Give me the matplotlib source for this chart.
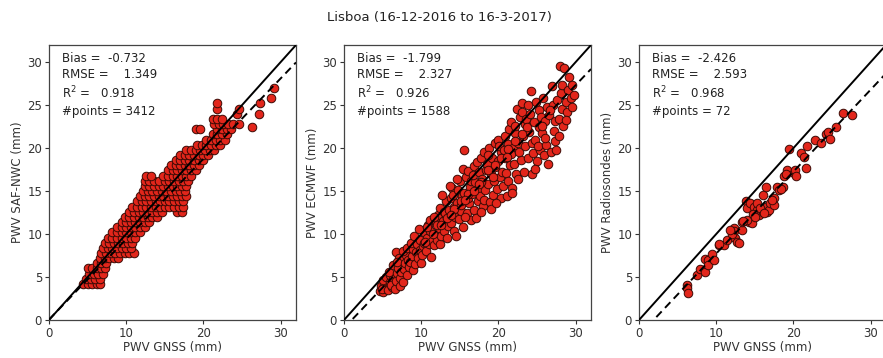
import numpy as np
import matplotlib
matplotlib.use("Agg")
import matplotlib.pyplot as plt

# ------------------ Data ------------------
title = "Lisboa (16-12-2016 to 16-3-2017)"
xlabel = "PWV GNSS (mm)"
ylabels = ["PWV SAF-NWC (mm)", "PWV ECMWF (mm)", "PWV Radiosondes (mm)"]

bias = [-0.732, -1.799, -2.426]
rmse = [1.349, 2.327, 2.593]
r2 = [0.918, 0.926, 0.968]
npoints = [3412, 1588, 72]

# regression lines (slope, intercept)
fit_slope = [0.935, 0.942, 0.953]
fit_icept = [0.05, -0.94, -1.80]

# SAF-NWC: values come in rows (quantised y), x positions per row
nwc_levels = [4.2, 4.8, 5.4, 6.0, 6.6, 7.2, 7.8, 8.4, 9.0, 9.6, 10.2, 10.8,
              11.4, 12.0, 12.6, 13.2, 13.8, 14.4, 15.0, 15.6, 16.2, 16.8,
              17.4, 18.0, 18.6, 19.2, 19.8, 20.4, 21.0, 21.6, 22.2, 22.8,
              23.4, 24.0, 24.6, 25.2, 25.8, 27.0, 22.4]
nwc_row_x = [
    [4.4, 5.0, 5.6, 6.2, 6.6],
    [4.8, 5.4, 6.0, 6.6],
    [5.2, 5.8, 6.4, 7.0],
    [5.0, 5.6, 6.2, 6.8, 7.2],
    [6.2, 6.8, 7.4],
    [6.6, 7.2, 7.8, 8.4, 9.0],
    [6.8, 7.4, 8.0, 8.6, 9.2, 9.8, 10.4, 11.0],
    [7.0, 7.6, 8.2, 8.8, 9.4, 10.0, 10.6],
    [7.2, 7.8, 8.4, 9.0, 9.6, 10.2, 10.8],
    [7.6, 8.2, 8.8, 9.4, 10.0, 10.6, 11.2],
    [8.2, 8.8, 9.4, 10.0, 10.6, 11.2, 11.8],
    [8.8, 9.4, 10.0, 10.6, 11.2, 11.8, 12.4],
    [9.4, 10.0, 10.6, 11.2, 11.8, 12.4, 13.0],
    [9.8, 10.4, 11.0, 11.6, 12.2, 12.8, 13.4, 14.0],
    [10.4, 11.0, 11.6, 12.2, 12.8, 13.4, 14.0, 14.6, 16.6, 17.2],
    [10.8, 11.4, 12.0, 12.6, 13.2, 13.8, 14.4, 15.0, 15.6, 16.2, 16.8, 17.4],
    [11.4, 12.0, 12.6, 13.2, 13.8, 14.4, 15.0, 15.6, 16.2, 16.8, 17.4],
    [11.8, 12.4, 13.0, 13.6, 14.2, 14.8, 15.4, 16.0, 16.6, 17.2, 17.8],
    [12.2, 12.8, 13.4, 14.0, 14.6, 15.2, 15.8, 16.4, 17.0, 17.6],
    [12.4, 13.0, 13.6, 14.2, 14.8, 15.4, 16.0, 16.6, 17.2, 17.8],
    [12.4, 13.0, 13.6, 14.2, 15.0, 15.6, 16.2, 16.8, 17.4, 18.0],
    [12.6, 13.2, 14.8, 15.4, 16.0, 16.6, 17.2, 17.8, 18.4],
    [15.4, 16.0, 16.6, 17.2, 17.8, 18.4, 19.0],
    [15.8, 16.4, 17.0, 17.6, 18.2, 18.8, 19.4],
    [16.4, 17.0, 17.6, 18.2, 18.8, 19.4, 20.0],
    [17.0, 17.6, 18.2, 18.8, 19.4, 20.0, 20.6],
    [17.8, 18.4, 19.0, 19.6, 20.2, 20.8, 21.4],
    [19.2, 19.8, 20.4, 21.0, 21.6, 22.2],
    [20.4, 21.0, 21.6, 22.2, 22.8],
    [21.2, 21.8, 22.4, 23.0],
    [19.0, 19.6, 21.8, 22.4, 23.0, 23.6],
    [21.4, 22.0, 22.6, 23.2, 23.8, 24.6],
    [21.2, 21.8, 22.4],
    [24.4, 27.2],
    [21.8, 24.6],
    [21.8, 27.4],
    [28.8],
    [29.2],
    [26.3],
]

# ECMWF scatter
ecmwf_x = [4.6, 4.8, 5.0, 5.2, 5.4, 5.0, 5.5, 4.9,
           5.7, 5.9, 6.0, 6.2, 6.3, 5.8, 6.4, 6.1,
           6.6, 6.8, 6.9, 7.0, 7.2, 7.3, 6.7, 7.1, 7.4, 6.9,
           7.6, 7.8, 7.9, 8.0, 8.2, 8.3, 7.7, 8.4, 8.1,
           8.6, 8.8, 8.9, 9.0, 9.2, 9.3, 8.7, 9.4, 9.1,
           9.6, 9.8, 9.9, 10.0, 10.2, 10.3, 10.4, 9.7, 10.1,
           10.6, 10.8, 10.9, 11.0, 11.2, 11.3, 11.4, 10.7, 11.1,
           11.6, 11.8, 11.9, 12.0, 12.2, 12.3, 12.4, 11.7, 12.1, 12.5,
           12.6, 12.8, 12.9, 13.0, 13.2, 13.3, 13.4, 12.7, 13.1, 13.5,
           13.6, 13.8, 13.9, 14.0, 14.2, 14.3, 14.4, 13.7, 14.1, 14.5,
           14.6, 14.8, 14.9, 15.0, 15.2, 15.3, 15.4, 14.7, 15.1, 15.5, 15.4,
           15.6, 15.8, 15.9, 16.0, 16.2, 16.3, 16.4, 15.7, 16.1, 16.5,
           16.6, 16.8, 16.9, 17.0, 17.2, 17.3, 17.4, 16.7, 17.1, 17.5,
           17.6, 17.8, 17.9, 18.0, 18.2, 18.3, 18.4, 17.7, 18.1, 18.5,
           18.6, 18.8, 18.9, 19.0, 19.2, 19.3, 19.4, 18.7, 19.1, 19.5,
           19.6, 19.8, 19.9, 20.0, 20.2, 20.3, 20.4, 19.7, 20.1, 20.5,
           20.6, 20.8, 20.9, 21.0, 21.2, 21.3, 21.4, 20.7, 21.1, 21.5,
           21.6, 21.8, 21.8, 21.9, 22.0, 22.2, 22.3, 22.4, 21.7, 22.1, 22.5,
           22.6, 22.8, 22.9, 23.0, 23.2, 23.3, 23.4, 22.7, 23.1, 23.5,
           23.6, 23.8, 23.9, 24.0, 24.2, 24.3, 24.4, 23.7, 24.1, 24.5,
           24.6, 24.8, 24.9, 25.0, 25.2, 25.3, 25.4, 24.7, 25.1, 25.5,
           25.6, 25.8, 25.9, 26.0, 26.2, 26.3, 26.4, 25.7, 26.1,
           26.6, 26.8, 27.0, 27.1, 27.2, 27.4, 26.7, 27.3, 27.5,
           27.6, 27.8, 28.0, 28.1, 28.2, 28.4, 28.5, 27.9, 28.3,
           28.7, 28.9, 29.0, 29.2, 29.4, 29.5, 29.6, 29.8, 28.8,
           10.5, 11.5, 12.6, 13.4, 14.3, 15.2, 16.1, 16.9, 17.8, 18.7,
           19.6, 20.4, 21.2, 22.1, 23.0, 13.9, 15.7, 17.5, 19.3, 21.1]
ecmwf_y = [3.4, 3.9, 3.3, 4.2, 3.6, 4.6, 5.0, 3.6,
           3.5, 4.4, 5.2, 3.8, 4.8, 5.6, 6.4, 4.1,
           3.6, 4.5, 5.5, 6.1, 3.9, 4.9, 7.9, 7.2, 5.6, 6.8,
           4.4, 5.9, 6.6, 7.6, 5.2, 7.0, 8.0, 6.2, 8.4,
           6.8, 7.5, 5.8, 8.3, 6.5, 7.9, 9.0, 8.9, 9.8,
           7.2, 8.1, 9.3, 6.6, 8.6, 10.2, 9.0, 10.6, 7.6,
           8.0, 9.6, 11.0, 8.8, 10.4, 7.3, 9.2, 10.8, 11.6,
           8.7, 10.0, 11.4, 9.3, 12.2, 10.7, 8.9, 12.0, 11.0, 13.0,
           9.8, 11.5, 12.6, 10.3, 13.8, 11.9, 9.6, 14.6, 12.4, 10.9,
           12.8, 14.2, 11.3, 15.4, 13.2, 10.4, 12.0, 15.6, 14.6, 9.8,
           13.6, 15.1, 11.8, 16.2, 12.7, 14.4, 10.8, 16.4, 13.4, 19.8, 17.6,
           14.8, 16.6, 12.4, 17.3, 13.6, 15.5, 11.6, 12.0, 14.2, 16.2,
           14.7, 17.9, 12.8, 16.0, 18.4, 13.9, 15.3, 16.9, 11.9, 17.2,
           14.4, 18.9, 16.4, 13.3, 19.6, 15.1, 17.4, 12.6, 14.0, 18.2,
           15.8, 20.0, 13.7, 17.0, 18.8, 14.6, 16.2, 19.2, 12.9, 20.6,
           17.8, 15.2, 21.0, 18.5, 16.6, 19.6, 14.2, 13.6, 20.3, 17.2,
           15.6, 21.4, 18.9, 17.1, 20.5, 16.2, 22.2, 19.8, 14.4, 18.0,
           23.0, 15.4, 14.8, 20.0, 18.2, 21.8, 17.0, 24.6, 19.3, 22.6, 16.4,
           20.6, 23.6, 18.6, 25.2, 21.4, 17.2, 22.8, 19.6, 24.2, 20.2,
           23.4, 18.8, 25.0, 21.9, 26.6, 17.0, 20.6, 22.4, 24.0, 19.4,
           23.0, 21.0, 25.4, 18.5, 22.4, 24.4, 19.8, 17.6, 20.2, 23.6,
           21.8, 25.8, 19.2, 23.2, 20.4, 24.8, 18.2, 22.6, 21.2,
           23.8, 19.6, 27.2, 25.0, 22.0, 20.8, 24.4, 23.2, 19.8,
           25.6, 23.4, 29.5, 26.4, 24.6, 22.6, 29.3, 21.4, 27.4,
           25.4, 24.2, 26.8, 28.3, 25.8, 27.3, 24.8, 26.2, 23.3,
           9.1, 10.0, 11.1, 11.9, 12.9, 13.8, 14.7, 15.0, 16.0, 17.4,
           18.0, 18.8, 19.9, 20.8, 21.6, 12.2, 14.0, 15.8, 16.6, 19.0]

# Radiosondes scatter (72 launches)
sonde_x = [6.2, 6.2, 6.3, 7.5, 7.9, 8.6, 8.6, 9.0, 9.0, 9.4, 9.7, 10.3,
           11.0, 11.4, 12.3, 12.3, 12.5, 12.7, 13.0, 13.3, 13.3, 13.9,
           14.0, 14.4, 14.9, 14.3, 14.6, 14.0, 15.3, 15.3, 15.5, 16.0,
           16.0, 16.4, 16.4, 16.6, 16.8, 17.0, 17.5, 17.5, 17.9, 18.1,
           18.6, 18.8, 19.2, 19.4, 20.1, 20.2, 21.0, 21.4, 21.7, 21.8,
           22.8, 23.6, 24.2, 24.5, 24.7, 25.5, 26.4, 27.6, 14.8, 15.7,
           16.2, 13.5, 12.0, 10.4, 11.8, 17.2, 18.4, 19.0, 20.4, 15.0]
sonde_y = [4.1, 3.7, 3.1, 5.2, 5.9, 5.6, 7.1, 7.0, 6.4, 7.7, 7.0, 8.7,
           8.7, 9.3, 10.7, 10.3, 9.5, 9.1, 9.0, 10.5, 11.4, 13.8,
           13.0, 13.6, 13.2, 11.4, 11.3, 11.6, 12.8, 13.6, 12.2, 12.6,
           14.6, 13.2, 15.5, 12.6, 12.8, 13.6, 13.4, 14.2, 15.5, 15.1,
           15.5, 16.7, 17.5, 19.9, 17.1, 17.5, 19.4, 19.0, 17.7, 20.2,
           21.0, 20.6, 21.7, 21.9, 21.1, 22.5, 24.1, 23.8, 12.3, 13.0,
           12.4, 11.5, 10.0, 8.9, 10.5, 14.0, 15.2, 17.0, 16.8, 12.0]

# ------------------ Plot ------------------
nwc_x = [x for row in nwc_row_x for x in row]
nwc_y = [lev for lev, row in zip(nwc_levels, nwc_row_x) for _ in row]
series = [(nwc_x, nwc_y), (ecmwf_x, ecmwf_y), (sonde_x, sonde_y)]

plt.rcParams["font.family"] = "DejaVu Sans"
plt.rcParams["font.size"] = 8.5

fig = plt.figure(figsize=(8.83, 3.58), dpi=100)
fig.text(0.498, 0.952, title, ha="center", va="center", fontsize=9.5, color="#222222")

lefts = [49, 344, 639]
line_x = np.array([0, 32])

for i, (xs, ys) in enumerate(series):
    ax = fig.add_axes([lefts[i] / 883, 1 - 320 / 358, 247 / 883, 275 / 358])
    ax.scatter(xs, ys, s=38, c="#e2261b", edgecolors="#3b0a05", linewidths=0.7, zorder=2)
    ax.plot(line_x, line_x, color="black", lw=1.4, zorder=3)
    ax.plot(line_x, fit_slope[i] * line_x + fit_icept[i], color="black", lw=1.4,
            ls=(0, (4, 2.5)), zorder=3)
    ax.set_xlim(0, 32)
    ax.set_ylim(0, 32)
    ax.set_xticks([0, 10, 20, 30])
    ax.set_yticks([0, 5, 10, 15, 20, 25, 30])
    ax.set_xlabel(xlabel, labelpad=1, color="#333333")
    ax.set_ylabel(ylabels[i], labelpad=2, color="#333333")
    ax.tick_params(length=3, width=0.8, pad=2, colors="#333333")
    for sp in ax.spines.values():
        sp.set_color("#444444")
        sp.set_linewidth(0.9)
    stats = ("Bias =  %.3f\nRMSE =    %.3f\nR$^2$ =   %.3f\n#points = %d"
             % (bias[i], rmse[i], r2[i], npoints[i]))
    ax.text(0.052, 0.975, stats, transform=ax.transAxes, ha="left", va="top",
            linespacing=1.3, color="#222222")

fig.savefig("out.png", dpi=100)
